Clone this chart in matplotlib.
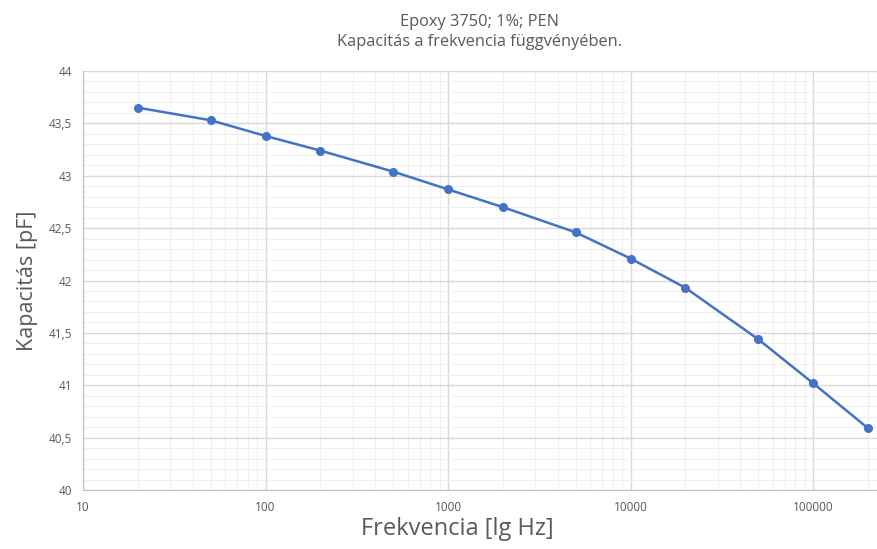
import matplotlib
matplotlib.use("Agg")
import matplotlib.pyplot as plt
from matplotlib.ticker import FixedLocator, FuncFormatter, MultipleLocator, LogLocator, NullFormatter

freq = [20, 50, 100, 200, 500, 1000, 2000, 5000, 10000, 20000, 50000, 100000, 200000]
cap = [43.65, 43.53, 43.38, 43.24, 43.04, 42.87, 42.70, 42.46, 42.21, 41.93, 41.44, 41.02, 40.59]
xticks = [10, 100, 1000, 10000, 100000]
title = "Epoxy 3750; 1%; PEN\nKapacitás a frekvencia függvényében."

plt.rcParams['font.family'] = ['Open Sans', 'DejaVu Sans']
GRAY = '#595959'

fig = plt.figure(figsize=(8.78, 5.49), dpi=100)
ax = fig.add_axes([83 / 878, 59 / 549, 795 / 878, 419 / 549])

ax.plot(freq, cap, color='#4472C4', linewidth=1.8, marker='o', markersize=5.5, zorder=3)

ax.set_xscale('log')
ax.set_xlim(10, 2.27e5)
ax.set_ylim(40, 44)
ax.xaxis.set_major_locator(FixedLocator(xticks))
ax.xaxis.set_major_formatter(FuncFormatter(lambda v, p: f"{v:.0f}"))
ax.xaxis.set_minor_locator(LogLocator(base=10, subs=range(2, 10)))
ax.xaxis.set_minor_formatter(NullFormatter())
ax.yaxis.set_major_locator(MultipleLocator(0.5))
ax.yaxis.set_minor_locator(MultipleLocator(0.1))
ax.yaxis.set_major_formatter(FuncFormatter(lambda v, p: f"{v:g}".replace('.', ',')))

ax.grid(which='major', color='#d9d9d9', linewidth=1.0)
ax.grid(which='minor', color='#efefef', linewidth=0.8)
ax.set_axisbelow(True)
for s in ['top', 'right']:
    ax.spines[s].set_visible(False)
for s in ['left', 'bottom']:
    ax.spines[s].set_color('#bfbfbf')
ax.tick_params(which='both', length=0, labelsize=8.5, colors=GRAY, pad=8)

ax.set_xlabel("Frekvencia [lg Hz]", fontsize=17, color=GRAY)
ax.xaxis.set_label_coords((457 - 83) / 795, -0.065)
ax.set_ylabel("Kapacitás [pF]", fontsize=15.5, color=GRAY)
ax.yaxis.set_label_coords(-0.057, 0.5)
fig.text(0.546, 0.975, title, ha='center', va='top', fontsize=11.8, color=GRAY, linespacing=1.35)

fig.savefig("out.png", dpi=100)
